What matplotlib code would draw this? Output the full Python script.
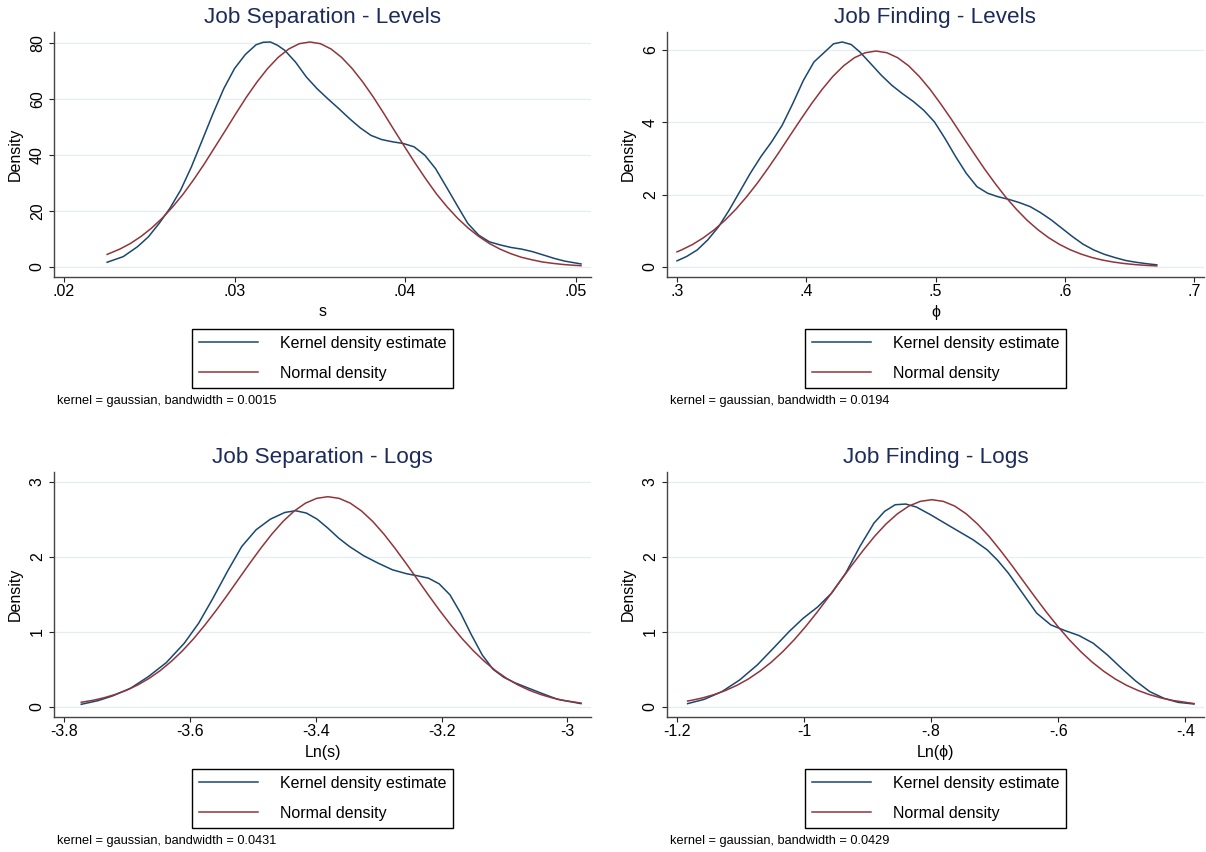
import numpy as np
import matplotlib
matplotlib.use("Agg")
import matplotlib.pyplot as plt

plt.rcParams['font.family'] = ['Liberation Sans', 'DejaVu Sans']

# ---- data ----
# job separation, levels
sep_lev_kde_x = [0.02253, 0.02347, 0.02432, 0.02495, 0.02558, 0.02621, 0.02684, 0.02747, 0.02811, 0.02874,
                 0.02937, 0.03000, 0.03063, 0.03126, 0.03168, 0.03211, 0.03253, 0.03295, 0.03358, 0.03421,
                 0.03484, 0.03547, 0.03611, 0.03674, 0.03737, 0.03800, 0.03863, 0.03926, 0.03989, 0.04053,
                 0.04116, 0.04179, 0.04242, 0.04305, 0.04368, 0.04432, 0.04495, 0.04558, 0.04621, 0.04684,
                 0.04747, 0.04811, 0.04874, 0.04937, 0.05032]
sep_lev_kde = [1.7, 3.7, 7.3, 10.8, 15.6, 21.0, 27.5, 35.8, 45.4, 54.9,
               63.8, 71.0, 76.0, 79.5, 80.4, 80.5, 79.3, 77.5, 73.3, 68.0,
               63.8, 60.2, 56.7, 53.1, 49.8, 47.1, 45.6, 44.8, 44.2, 43.0,
               40.0, 35.2, 28.7, 22.1, 15.6, 11.4, 9.0, 7.9, 7.0, 6.4,
               5.5, 4.3, 3.1, 2.1, 1.1]
sep_lev_nrm_x = [0.02253, 0.02327, 0.02389, 0.02451, 0.02513, 0.02575, 0.02637, 0.02699, 0.02761, 0.02823,
                 0.02884, 0.02946, 0.03008, 0.03070, 0.03132, 0.03194, 0.03256, 0.03318, 0.03380, 0.03442,
                 0.03504, 0.03566, 0.03628, 0.03690, 0.03752, 0.03814, 0.03876, 0.03938, 0.04000, 0.04062,
                 0.04124, 0.04185, 0.04247, 0.04309, 0.04371, 0.04433, 0.04495, 0.04557, 0.04619, 0.04681,
                 0.04743, 0.04805, 0.04867, 0.04929, 0.04991, 0.05032]
sep_lev_nrm = [4.5, 6.4, 8.4, 10.9, 13.9, 17.4, 21.5, 26.1, 31.3, 36.9,
               42.8, 48.8, 54.9, 60.8, 66.2, 71.0, 75.0, 78.0, 79.9, 80.5,
               79.9, 78.0, 75.0, 71.0, 66.2, 60.8, 54.9, 48.8, 42.8, 36.9,
               31.3, 26.1, 21.5, 17.4, 13.9, 10.9, 8.4, 6.4, 4.8, 3.5,
               2.6, 1.8, 1.3, 0.89, 0.61, 0.47]

# job finding, levels
fnd_lev_kde_x = [0.3000, 0.3074, 0.3156, 0.3238, 0.3321, 0.3403, 0.3485, 0.3567, 0.3649, 0.3732,
                 0.3814, 0.3896, 0.3978, 0.4060, 0.4142, 0.4211, 0.4279, 0.4348, 0.4416, 0.4499,
                 0.4581, 0.4663, 0.4745, 0.4827, 0.4910, 0.4992, 0.5074, 0.5156, 0.5238, 0.5321,
                 0.5403, 0.5485, 0.5567, 0.5649, 0.5732, 0.5814, 0.5896, 0.5978, 0.6060, 0.6142,
                 0.6225, 0.6307, 0.6389, 0.6471, 0.6553, 0.6636, 0.6712]
fnd_lev_kde = [0.17, 0.29, 0.47, 0.75, 1.11, 1.57, 2.08, 2.59, 3.05, 3.46,
               3.92, 4.52, 5.16, 5.67, 5.94, 6.17, 6.22, 6.15, 5.94, 5.62,
               5.30, 5.02, 4.79, 4.58, 4.33, 4.01, 3.55, 3.05, 2.59, 2.22,
               2.04, 1.94, 1.87, 1.78, 1.67, 1.50, 1.30, 1.07, 0.84, 0.63,
               0.47, 0.35, 0.26, 0.18, 0.13, 0.09, 0.06]
fnd_lev_nrm_x = [0.3000, 0.3037, 0.3121, 0.3204, 0.3288, 0.3371, 0.3455, 0.3538, 0.3622, 0.3705,
                 0.3789, 0.3872, 0.3956, 0.4039, 0.4123, 0.4206, 0.4290, 0.4373, 0.4457, 0.4540,
                 0.4624, 0.4707, 0.4791, 0.4874, 0.4958, 0.5041, 0.5125, 0.5208, 0.5292, 0.5375,
                 0.5459, 0.5542, 0.5626, 0.5709, 0.5793, 0.5876, 0.5960, 0.6043, 0.6127, 0.6210,
                 0.6294, 0.6377, 0.6461, 0.6544, 0.6628, 0.6712]
fnd_lev_nrm = [0.419, 0.475, 0.624, 0.808, 1.029, 1.291, 1.595, 1.938, 2.320, 2.733,
               3.171, 3.621, 4.072, 4.506, 4.911, 5.269, 5.565, 5.786, 5.923, 5.970,
               5.923, 5.786, 5.565, 5.269, 4.911, 4.506, 4.072, 3.621, 3.171, 2.733,
               2.320, 1.938, 1.595, 1.291, 1.029, 0.808, 0.624, 0.475, 0.356, 0.262,
               0.190, 0.136, 0.096, 0.066, 0.045, 0.030]

# job separation, logs
sep_log_kde_x = [-3.7726, -3.7458, -3.7230, -3.6944, -3.6659, -3.6374, -3.6089, -3.5860, -3.5632, -3.5403,
                 -3.5175, -3.4947, -3.4719, -3.4490, -3.4320, -3.4148, -3.3977, -3.3806, -3.3635, -3.3463,
                 -3.3235, -3.3007, -3.2779, -3.2550, -3.2379, -3.2208, -3.2037, -3.1866, -3.1695, -3.1524,
                 -3.1353, -3.1181, -3.1010, -3.0839, -3.0611, -3.0382, -3.0154, -2.9783]
sep_log_kde = [0.036, 0.085, 0.147, 0.249, 0.405, 0.592, 0.850, 1.117, 1.451, 1.807,
               2.140, 2.363, 2.505, 2.594, 2.617, 2.586, 2.505, 2.385, 2.252, 2.140,
               2.016, 1.918, 1.829, 1.776, 1.749, 1.718, 1.642, 1.496, 1.250, 0.961,
               0.694, 0.503, 0.396, 0.325, 0.249, 0.174, 0.102, 0.045]
sep_log_nrm_x = [-3.7726, -3.7541, -3.7364, -3.7186, -3.7008, -3.6830, -3.6652, -3.6474, -3.6296, -3.6118,
                 -3.5941, -3.5763, -3.5585, -3.5407, -3.5229, -3.5051, -3.4873, -3.4695, -3.4518, -3.4340,
                 -3.4162, -3.3984, -3.3806, -3.3628, -3.3450, -3.3272, -3.3094, -3.2917, -3.2739, -3.2561,
                 -3.2383, -3.2205, -3.2027, -3.1849, -3.1671, -3.1493, -3.1316, -3.1138, -3.0960, -3.0782,
                 -3.0604, -3.0426, -3.0248, -3.0070, -2.9783]
sep_log_nrm = [0.063, 0.089, 0.123, 0.167, 0.223, 0.293, 0.379, 0.483, 0.607, 0.749,
               0.910, 1.090, 1.284, 1.489, 1.701, 1.912, 2.116, 2.307, 2.475, 2.614,
               2.718, 2.782, 2.804, 2.782, 2.718, 2.614, 2.475, 2.307, 2.116, 1.912,
               1.701, 1.489, 1.284, 1.090, 0.910, 0.749, 0.607, 0.483, 0.379, 0.293,
               0.223, 0.167, 0.123, 0.089, 0.052]

# job finding, logs
fnd_log_kde_x = [-1.1833, -1.1571, -1.1293, -1.1015, -1.0737, -1.0458, -1.0235, -1.0013, -0.9790, -0.9567,
                 -0.9345, -0.9122, -0.8900, -0.8733, -0.8566, -0.8399, -0.8232, -0.8010, -0.7787, -0.7564,
                 -0.7341, -0.7119, -0.6952, -0.6785, -0.6562, -0.6339, -0.6117, -0.5894, -0.5671, -0.5449,
                 -0.5226, -0.5004, -0.4781, -0.4559, -0.4336, -0.4113, -0.3863]
fnd_log_kde = [0.045, 0.102, 0.205, 0.360, 0.560, 0.806, 1.006, 1.184, 1.331, 1.518,
               1.785, 2.140, 2.452, 2.608, 2.697, 2.706, 2.666, 2.564, 2.452, 2.341,
               2.230, 2.096, 1.954, 1.785, 1.518, 1.251, 1.095, 1.019, 0.952, 0.850,
               0.694, 0.516, 0.347, 0.205, 0.116, 0.062, 0.040]
fnd_log_nrm_x = [-1.1833, -1.1778, -1.1598, -1.1417, -1.1237, -1.1056, -1.0876, -1.0696, -1.0515, -1.0335,
                 -1.0155, -0.9974, -0.9794, -0.9613, -0.9433, -0.9253, -0.9072, -0.8892, -0.8712, -0.8531,
                 -0.8351, -0.8170, -0.7990, -0.7810, -0.7629, -0.7449, -0.7269, -0.7088, -0.6908, -0.6727,
                 -0.6547, -0.6367, -0.6186, -0.6006, -0.5826, -0.5645, -0.5465, -0.5284, -0.5104, -0.4924,
                 -0.4743, -0.4563, -0.4383, -0.4202, -0.3863]
fnd_log_nrm = [0.080, 0.088, 0.121, 0.165, 0.220, 0.289, 0.374, 0.477, 0.598, 0.738,
               0.897, 1.074, 1.265, 1.468, 1.676, 1.885, 2.086, 2.274, 2.439, 2.576,
               2.679, 2.742, 2.764, 2.742, 2.679, 2.576, 2.439, 2.274, 2.086, 1.885,
               1.676, 1.468, 1.265, 1.074, 0.897, 0.738, 0.598, 0.477, 0.374, 0.289,
               0.220, 0.165, 0.121, 0.088, 0.046]

titles = ["Job Separation - Levels", "Job Finding - Levels", "Job Separation - Logs", "Job Finding - Logs"]
xlabels = ["s", "\u03d5", "Ln(s)", "Ln(\u03d5)"]
notes = ["kernel = gaussian, bandwidth = 0.0015", "kernel = gaussian, bandwidth = 0.0194",
         "kernel = gaussian, bandwidth = 0.0431", "kernel = gaussian, bandwidth = 0.0429"]
xticks = [[0.02, 0.03, 0.04, 0.05], [0.3, 0.4, 0.5, 0.6, 0.7],
          [-3.8, -3.6, -3.4, -3.2, -3.0], [-1.2, -1.0, -0.8, -0.6, -0.4]]
xticklabels = [[".02", ".03", ".04", ".05"], [".3", ".4", ".5", ".6", ".7"],
               ["-3.8", "-3.6", "-3.4", "-3.2", "-3"], ["-1.2", "-1", "-.8", "-.6", "-.4"]]
yticks = [[0, 20, 40, 60, 80], [0, 2, 4, 6], [0, 1, 2, 3], [0, 1, 2, 3]]
kde_x = [sep_lev_kde_x, fnd_lev_kde_x, sep_log_kde_x, fnd_log_kde_x]
kde_y = [sep_lev_kde, fnd_lev_kde, sep_log_kde, fnd_log_kde]
nrm_x = [sep_lev_nrm_x, fnd_lev_nrm_x, sep_log_nrm_x, fnd_log_nrm_x]
nrm_y = [sep_lev_nrm, fnd_lev_nrm, sep_log_nrm, fnd_log_nrm]

BLUE = "#1a476f"
RED = "#90353b"
TITLE = "#1c2b5a"

W, H = 1206, 852
fig = plt.figure(figsize=(W / 100, H / 100), dpi=100)

# panel geometry in pixels (left spine x, bottom spine y)
lefts = [54, 667, 54, 667]
bottoms = [277, 277, 717, 717]
aw, ah = 537, 245

for i in range(4):
    L, B = lefts[i], bottoms[i]
    ax = fig.add_axes([L / W, 1 - B / H, aw / W, ah / H])
    ax.plot(kde_x[i], kde_y[i], color=BLUE, lw=1.1, zorder=3, label="Kernel density estimate")
    ax.plot(nrm_x[i], nrm_y[i], color=RED, lw=1.1, zorder=3, label="Normal density")

    # stata-like ranges: data + ticks, ~10px margin
    xlo = min(min(xticks[i]), min(kde_x[i]))
    xhi = max(max(xticks[i]), max(kde_x[i]))
    ylo = min(yticks[i])
    yhi = max(max(yticks[i]), max(kde_y[i]), max(nrm_y[i]))
    px = (xhi - xlo) / (aw - 20) * 10
    py = (yhi - ylo) / (ah - 20) * 10
    ax.set_xlim(xlo - px, xhi + px)
    ax.set_ylim(ylo - py, yhi + py)

    ax.set_xticks(xticks[i])
    ax.set_xticklabels(xticklabels[i])
    ax.set_yticks(yticks[i])
    ax.set_yticklabels([str(v) for v in yticks[i]], rotation=90, va="center")
    ax.tick_params(axis="both", length=3.6, width=0.8, color="#222222", labelsize=11.5, labelcolor="black")
    ax.tick_params(axis="x", pad=1.5)
    ax.tick_params(axis="y", pad=3.0)

    ax.grid(axis="y", color="#e4edf0", lw=0.9, zorder=0)
    ax.set_axisbelow(True)
    for s in ["top", "right"]:
        ax.spines[s].set_visible(False)
    for s in ["left", "bottom"]:
        ax.spines[s].set_color("#444444")
        ax.spines[s].set_linewidth(1.0)

    ax.set_title(titles[i], fontsize=16.2, color=TITLE, pad=6.5)
    ax.set_ylabel("Density", fontsize=11.5)
    ax.yaxis.set_label_coords(-39 / aw, 0.5)
    ax.yaxis.label.set_va("center")
    ax.set_xlabel(xlabels[i], fontsize=11.5)
    ax.xaxis.set_label_coords(0.5, -35 / ah)
    ax.xaxis.label.set_va("center")

    leg = ax.legend(loc="upper center", bbox_to_anchor=(0.5, -(329 - 277) / ah), fontsize=11.5,
                    frameon=True, fancybox=False, edgecolor="black", framealpha=1, borderaxespad=0,
                    handlelength=3.75, handletextpad=1.35, borderpad=0.42, labelspacing=0.95)
    leg.get_frame().set_linewidth(1.0)

    fig.text((L + 3) / W, 1 - (B + 124) / H, notes[i], fontsize=9.2, va="center", ha="left")

fig.savefig("out.png", dpi=100, facecolor="white")
